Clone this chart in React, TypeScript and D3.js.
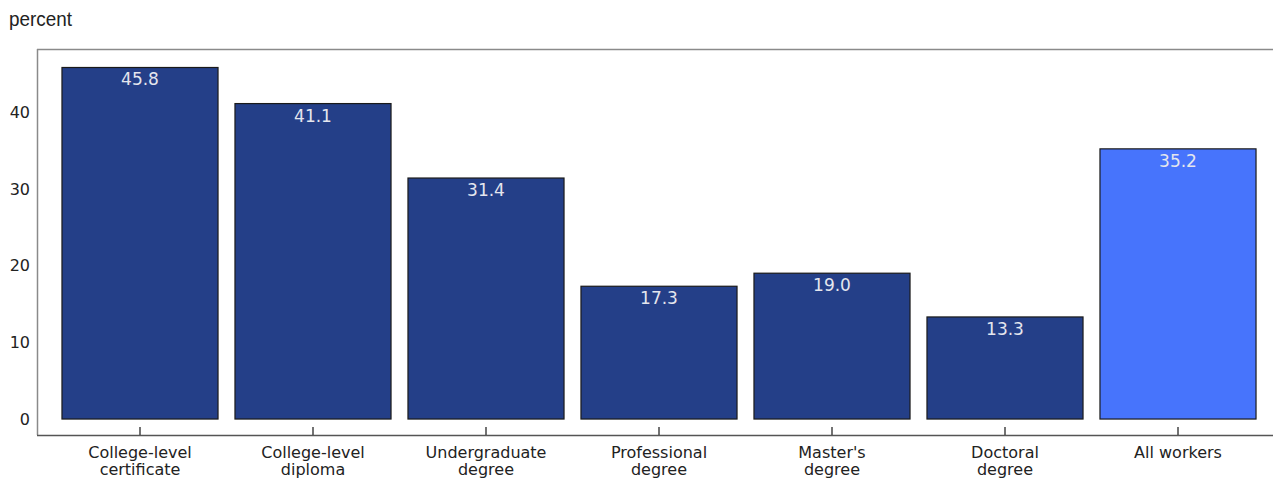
import React from "react";
import * as d3 from "d3";

const categories: string[][] = [
  ["College-level", "certificate"],
  ["College-level", "diploma"],
  ["Undergraduate", "degree"],
  ["Professional", "degree"],
  ["Master's", "degree"],
  ["Doctoral", "degree"],
  ["All workers"],
];
const values: number[] = [45.8, 41.1, 31.4, 17.3, 19.0, 13.3, 35.2];
const highlight: boolean[] = [false, false, false, false, false, false, true];
const yTicks: number[] = [0, 10, 20, 30, 40];
const unitLabel = "percent";

const W = 1273;
const H = 478;
const frame = { left: 37, right: 1273, top: 49, bottom: 435 };

export default function App() {
  const keys = categories.map((c) => c.join(" "));
  const x = d3
    .scaleBand<string>()
    .domain(keys)
    .range([53.5, 1264.5])
    .paddingInner(0.098)
    .paddingOuter(0.049);
  const y = d3.scaleLinear().domain([-2.08, 48.21]).range([frame.bottom, frame.top]);

  const font = "'DejaVu Sans', Verdana, sans-serif";

  return (
    <svg
      width={W}
      height={H}
      style={{ position: "absolute", left: 0, top: 0, display: "block", background: "#fff" }}
    >
      <text
        x={9}
        y={26}
        fontFamily="'Liberation Sans Narrow', 'Arial Narrow', 'Liberation Sans', sans-serif"
        fontSize={21}
        textLength={63}
        lengthAdjust="spacingAndGlyphs"
        fill="#222"
      >
        {unitLabel}
      </text>

      {/* plot frame */}
      <line x1={frame.left} x2={frame.right} y1={frame.top + 0.5} y2={frame.top + 0.5} stroke="#8a8a8a" strokeWidth={1.5} />
      <line x1={frame.left + 0.5} x2={frame.left + 0.5} y1={frame.top} y2={frame.bottom} stroke="#8a8a8a" strokeWidth={1.5} />

      {yTicks.map((t) => (
        <text
          key={t}
          x={30}
          y={y(t)}
          dy="0.36em"
          textAnchor="end"
          fontFamily={font}
          fontSize={16}
          fill="#222"
        >
          {t}
        </text>
      ))}

      {values.map((v, i) => {
        const x0 = x(keys[i]) as number;
        const bw = x.bandwidth();
        return (
          <g key={keys[i]}>
            <rect
              x={x0}
              y={y(v)}
              width={bw}
              height={y(0) - y(v)}
              fill={highlight[i] ? "#4774fc" : "#243f88"}
              stroke="#1a1a1a"
              strokeWidth={1.2}
            />
            <text
              x={x0 + bw / 2}
              y={y(v) + 18}
              textAnchor="middle"
              fontFamily={font}
              fontSize={17}
              fill="#e4e6ee"
            >
              {v.toFixed(1)}
            </text>
          </g>
        );
      })}

      <line x1={frame.left} x2={frame.right} y1={frame.bottom + 0.5} y2={frame.bottom + 0.5} stroke="#555" strokeWidth={1.5} />

      {keys.map((k, i) => {
        const cx = (x(k) as number) + x.bandwidth() / 2;
        return (
          <g key={k}>
            <line x1={cx} x2={cx} y1={427} y2={frame.bottom} stroke="#444" strokeWidth={1.5} />
            <text textAnchor="middle" fontFamily={font} fontSize={16} fill="#222">
              {categories[i].map((line, j) => (
                <tspan key={j} x={cx} y={458 + j * 16.5}>
                  {line}
                </tspan>
              ))}
            </text>
          </g>
        );
      })}
    </svg>
  );
}
